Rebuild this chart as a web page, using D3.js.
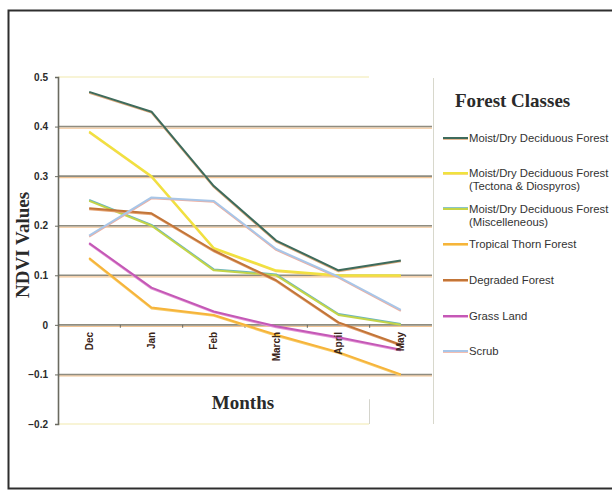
<!DOCTYPE html>
<html>
<head>
<meta charset="utf-8">
<script src="https://cdn.jsdelivr.net/npm/d3@7"></script>
<style>
  html, body { margin: 0; padding: 0; background: #fff; }
  svg { display: block; }
</style>
</head>
<body>
<svg id="chart" width="612" height="490"></svg>
<script>
// Monthly NDVI by forest class
const months = ["Dec", "Jan", "Feb", "March", "April", "May"];
const yTicks = [0.5, 0.4, 0.3, 0.2, 0.1, 0, -0.1, -0.2];

const moistDry       = [0.47, 0.43, 0.28, 0.17, 0.11, 0.13];
const moistTectona   = [0.39, 0.30, 0.155, 0.11, 0.10, 0.10];
const moistMisc      = [0.25, 0.20, 0.11, 0.10, 0.02, 0.00];
const tropicalThorn  = [0.135, 0.035, 0.02, -0.02, -0.055, -0.10];
const degraded       = [0.235, 0.225, 0.15, 0.09, 0.005, -0.04];
const grassLand      = [0.165, 0.075, 0.027, -0.003, -0.025, -0.05];
const scrub          = [0.18, 0.257, 0.25, 0.153, 0.097, 0.03];

const series = [
  { name: ["Moist/Dry Deciduous Forest"], values: moistDry, color: "#3e6b5c", fringe: "#dca87a", off: 1 },
  { name: ["Moist/Dry Deciduous Forest", "(Tectona & Diospyros)"], values: moistTectona, color: "#f0e23e", fringe: "#f6d35a", off: 1 },
  { name: ["Moist/Dry Deciduous Forest", "(Miscelleneous)"], values: moistMisc, color: "#c4d448", fringe: "#6cb6bc", off: -1 },
  { name: ["Tropical Thorn Forest"], values: tropicalThorn, color: "#f6b43a", fringe: "#f8cc6a", off: 1 },
  { name: ["Degraded Forest"], values: degraded, color: "#c27538", fringe: "#e4a272", off: 1 },
  { name: ["Grass Land"], values: grassLand, color: "#c458b6", fringe: "#e496d6", off: 1 },
  { name: ["Scrub"], values: scrub, color: "#a8c6e8", fringe: "#f0ae9e", off: 1 }
];

const sansNarrow = "'Liberation Sans Narrow', 'Arial Narrow', 'Liberation Sans', sans-serif";
const serif = "'Liberation Serif', 'Times New Roman', serif";

const svg = d3.select("#chart");

// outer frame
svg.append("rect")
  .attr("x", 8.5).attr("y", 10.5).attr("width", 620).attr("height", 478)
  .attr("fill", "none").attr("stroke", "#2e2e2e").attr("stroke-width", 2);

const x = d3.scaleBand().domain(months).range([58, 432]).padding(0);
const y = d3.scaleLinear().domain([-0.2, 0.5]).range([424, 77]);

const g = svg.append("g");

// horizontal gridlines
const inner = yTicks.filter(v => v !== 0.5 && v !== -0.2);
g.selectAll("line.gridF").data(inner).join("line")
  .attr("x1", 58).attr("x2", 432)
  .attr("y1", d => y(d) + 1.5).attr("y2", d => y(d) + 1.5)
  .attr("stroke", "#f2c596").attr("stroke-width", 1.2);
g.selectAll("line.grid").data(inner).join("line")
  .attr("x1", 58).attr("x2", 432)
  .attr("y1", d => y(d)).attr("y2", d => y(d))
  .attr("stroke", "#8e8c80").attr("stroke-width", 1.6);

// faint plot-area edges
g.selectAll("line.edge").data([0.5, -0.2]).join("line")
  .attr("x1", 58).attr("x2", 369)
  .attr("y1", d => y(d)).attr("y2", d => y(d))
  .attr("stroke", "#f6f0c8").attr("stroke-width", 1.5);
g.append("line")
  .attr("x1", 369.5).attr("x2", 369.5).attr("y1", y(-0.15)).attr("y2", y(-0.2))
  .attr("stroke", "#d4d4cc").attr("stroke-width", 1);

// legend box edge
g.append("line")
  .attr("x1", 433.5).attr("x2", 433.5).attr("y1", 78).attr("y2", 424)
  .attr("stroke", "#d8d8cc").attr("stroke-width", 1);

// y axis
const yAxis = d3.axisLeft(y).tickValues(yTicks).tickSize(3).tickPadding(7)
  .tickFormat(d => d === 0 ? "0" : d3.format(".1f")(d));
const ya = svg.append("g").attr("transform", "translate(58,0)").call(yAxis);
ya.select(".domain").attr("stroke", "#6a6a60").attr("stroke-width", 1.6);
ya.selectAll(".tick line").attr("stroke", "#6a6a60");
ya.selectAll(".tick text")
  .attr("font-family", sansNarrow)
  .attr("font-weight", "bold").attr("font-size", 10).attr("fill", "#2a2a2a");

// x axis ticks on the zero line
const xa = svg.append("g").attr("transform", `translate(0,${y(0)})`);
const boundaries = months.slice(1).map(m => x(m));
xa.selectAll("line.tk").data(boundaries).join("line")
  .attr("x1", d => d).attr("x2", d => d).attr("y1", 0).attr("y2", 3)
  .attr("stroke", "#6a6a60").attr("stroke-width", 1);

// series lines
const line = d3.line()
  .x((d, i) => x(months[i]) + x.bandwidth() / 2)
  .y(d => y(d));

const sg = svg.append("g");
series.forEach(s => {
  sg.append("path").datum(s.values)
    .attr("d", line).attr("fill", "none")
    .attr("transform", `translate(0,${s.off})`)
    .attr("stroke", s.fringe).attr("stroke-width", 1.8)
    .attr("stroke-linejoin", "round");
  sg.append("path").datum(s.values)
    .attr("d", line).attr("fill", "none")
    .attr("stroke", s.color).attr("stroke-width", 2)
    .attr("stroke-linejoin", "round");
});

// month labels sit on top of the lines
const xl = svg.append("g").attr("transform", `translate(0,${y(0)})`);
xl.selectAll("text").data(months).join("text")
  .attr("transform", d => `translate(${x(d) + x.bandwidth() / 2 + 3.5},${7}) rotate(-90)`)
  .attr("text-anchor", "end")
  .attr("font-family", sansNarrow)
  .attr("font-weight", "bold").attr("font-size", 10).attr("fill", "#3a2418")
  .text(d => d);

// axis titles
svg.append("text")
  .attr("transform", "translate(29,245) rotate(-90)")
  .attr("text-anchor", "middle")
  .attr("font-family", serif)
  .attr("font-weight", "bold").attr("font-size", 19).attr("fill", "#2a2a2a")
  .text("NDVI Values");
svg.append("text")
  .attr("x", 243).attr("y", 409)
  .attr("text-anchor", "middle")
  .attr("font-family", serif)
  .attr("font-weight", "bold").attr("font-size", 19).attr("fill", "#2a2a2a")
  .text("Months");

// legend
const legend = svg.append("g");
legend.append("text")
  .attr("x", 455).attr("y", 107)
  .attr("font-family", serif)
  .attr("font-weight", "bold").attr("font-size", 19).attr("fill", "#2a2a2a")
  .text("Forest Classes");

const legendY = [138, 173, 209, 244, 280, 316, 351];
series.forEach((s, i) => {
  const ly = legendY[i];
  legend.append("line")
    .attr("x1", 443).attr("x2", 468).attr("y1", ly + s.off).attr("y2", ly + s.off)
    .attr("stroke", s.fringe).attr("stroke-width", 1.6);
  legend.append("line")
    .attr("x1", 443).attr("x2", 468).attr("y1", ly).attr("y2", ly)
    .attr("stroke", s.color).attr("stroke-width", 2);
  s.name.forEach((t, j) => {
    legend.append("text")
      .attr("x", 469).attr("y", ly + 4 + j * 13)
      .attr("font-family", sansNarrow)
      .attr("font-size", 11.3).attr("fill", "#333")
      .text(t);
  });
});
</script>
</body>
</html>
